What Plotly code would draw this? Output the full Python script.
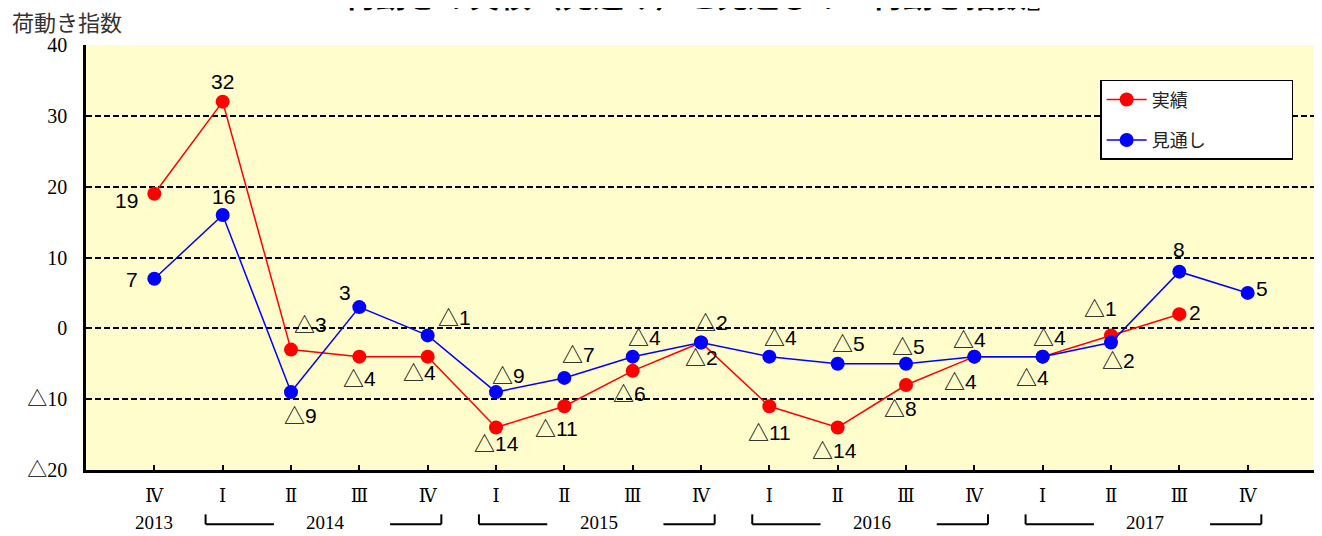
import plotly.graph_objects as go

quarters = ["Ⅳ", "Ⅰ", "Ⅱ", "Ⅲ", "Ⅳ", "Ⅰ", "Ⅱ", "Ⅲ", "Ⅳ", "Ⅰ", "Ⅱ", "Ⅲ", "Ⅳ", "Ⅰ", "Ⅱ", "Ⅲ", "Ⅳ"]
years = ["2013", "2014", "2015", "2016", "2017"]
year_spans = [(0, 0), (1, 4), (5, 8), (9, 12), (13, 16)]
actual = [19, 32, -3, -4, -4, -14, -11, -6, -2, -11, -14, -8, -4, -4, -1, 2, None]
outlook = [7, 16, -9, 3, -1, -9, -7, -4, -2, -4, -5, -5, -4, -4, -2, 8, 5]
y_ticks = [-20, -10, 0, 10, 20, 30, 40]

# label offsets (pixels) per point
actual_off = [(-28, 7), (0, -20), (19, -25), (0, 22), (-8, 16), (0, 16), (-8, 22), (-3, 23),
              (0, 15), (0, 26), (-3, 23), (-6, 23), (-14, 25), (-10, 21), (-11, -27), (16, -2), None]
outlook_off = [(-22, 1), (1, -19), (9, 23), (-14, -15), (27, -18), (12, -17), (14, -23), (12, -19),
               (10, -20), (11, -19), (11, -20), (2, -17), (-5, -17), (7, -19), (7, 18), (0, -22), (14, -4)]

def fmt(v):
    return "△" + str(abs(v)) if v < 0 else str(v)

PAD = "\u00a0" * 20
x = list(range(len(quarters)))
fig = go.Figure()
fig.add_trace(go.Scatter(x=x, y=actual, mode="lines+markers", name="実績" + PAD, legendgroup="a",
                         line=dict(color="#FF0000", width=1.5),
                         marker=dict(color="#FF0000", size=14)))
fig.add_trace(go.Scatter(x=x, y=outlook, mode="lines+markers", name="見通し" + PAD, legendgroup="b",
                         line=dict(color="#0000FF", width=1.5),
                         marker=dict(color="#0000FF", size=14)))

lab_font = dict(family="Liberation Sans, Noto Sans CJK JP, sans-serif", size=21, color="black")
for series, offs in ((actual, actual_off), (outlook, outlook_off)):
    for i, v in enumerate(series):
        if v is None:
            continue
        dx, dy = offs[i]
        fig.add_annotation(x=i, y=v, text=fmt(v), showarrow=False, xshift=dx, yshift=-dy,
                           font=lab_font)

serif = "Liberation Serif, Noto Sans CJK JP, DejaVu Serif, serif"
roman_font = "Liberation Serif, DejaVu Serif, serif"
year_y = -0.1224
for name, (s, e) in zip(years, year_spans):
    fig.add_annotation(x=(s + e) / 2, y=year_y, xref="x", yref="paper", text=name,
                       showarrow=False, xanchor="center", yanchor="middle",
                       font=dict(family=serif, size=19, color="black"))
    if e > s:
        for (a, b, tick) in ((s - 0.25, s + 0.75, s - 0.25), (e - 0.55, e + 0.2, e + 0.2)):
            fig.add_shape(type="line", x0=a, x1=b, y0=year_y - 0.005, y1=year_y - 0.005,
                          xref="x", yref="paper", line=dict(color="black", width=2))
            fig.add_shape(type="line", x0=tick, x1=tick, y0=year_y - 0.005, y1=year_y + 0.018,
                          xref="x", yref="paper", line=dict(color="black", width=2))

fig.add_annotation(x=0.5, y=1.12, xref="paper", yref="paper", text="<b>荷動きの実績（見込み）と見通しの『荷動き指数』</b>",
                   showarrow=False, yanchor="middle",
                   font=dict(family="Noto Sans CJK JP, sans-serif", size=31, color="black"))
fig.add_annotation(x=-0.0618, y=1.056, xref="paper", yref="paper", text="荷動き指数", xanchor="left",
                   yanchor="middle", showarrow=False,
                   font=dict(family="Noto Sans CJK JP, sans-serif", size=22, color="#333333"))

fig.update_layout(
    width=1314, height=528,
    margin=dict(l=78, r=6, t=37, b=66, autoexpand=False),
    plot_bgcolor="#FFFDCC", paper_bgcolor="white",
    showlegend=True,
    legend=dict(x=0.8245, y=0.918, xanchor="left", yanchor="top", bgcolor="white",
                bordercolor="black", borderwidth=1.5, tracegroupgap=14,
                font=dict(family="Noto Sans CJK JP, sans-serif", size=18, color="#222222"),
                itemwidth=40),
    xaxis=dict(range=[-1, 17], tickmode="array", tickvals=x, ticktext=quarters, automargin=False,
               showgrid=False, zeroline=False, showline=True, linecolor="black", linewidth=2.5,
               ticks="inside", ticklen=5, tickcolor="black", tickwidth=1.5,
               tickfont=dict(family=roman_font, size=18, color="black"), ticklabelstandoff=8),
    yaxis=dict(range=[-20, 40], tickmode="array", tickvals=y_ticks, ticktext=[fmt(v) for v in y_ticks],
               automargin=False,
               showgrid=True, gridcolor="black", gridwidth=1.6, griddash="6px,3px",
               zeroline=False, showline=True, linecolor="black", linewidth=2.5, ticks="",
               tickfont=dict(family=serif, size=20, color="black"), ticklabelstandoff=12),
)
fig.write_html("out.html")
